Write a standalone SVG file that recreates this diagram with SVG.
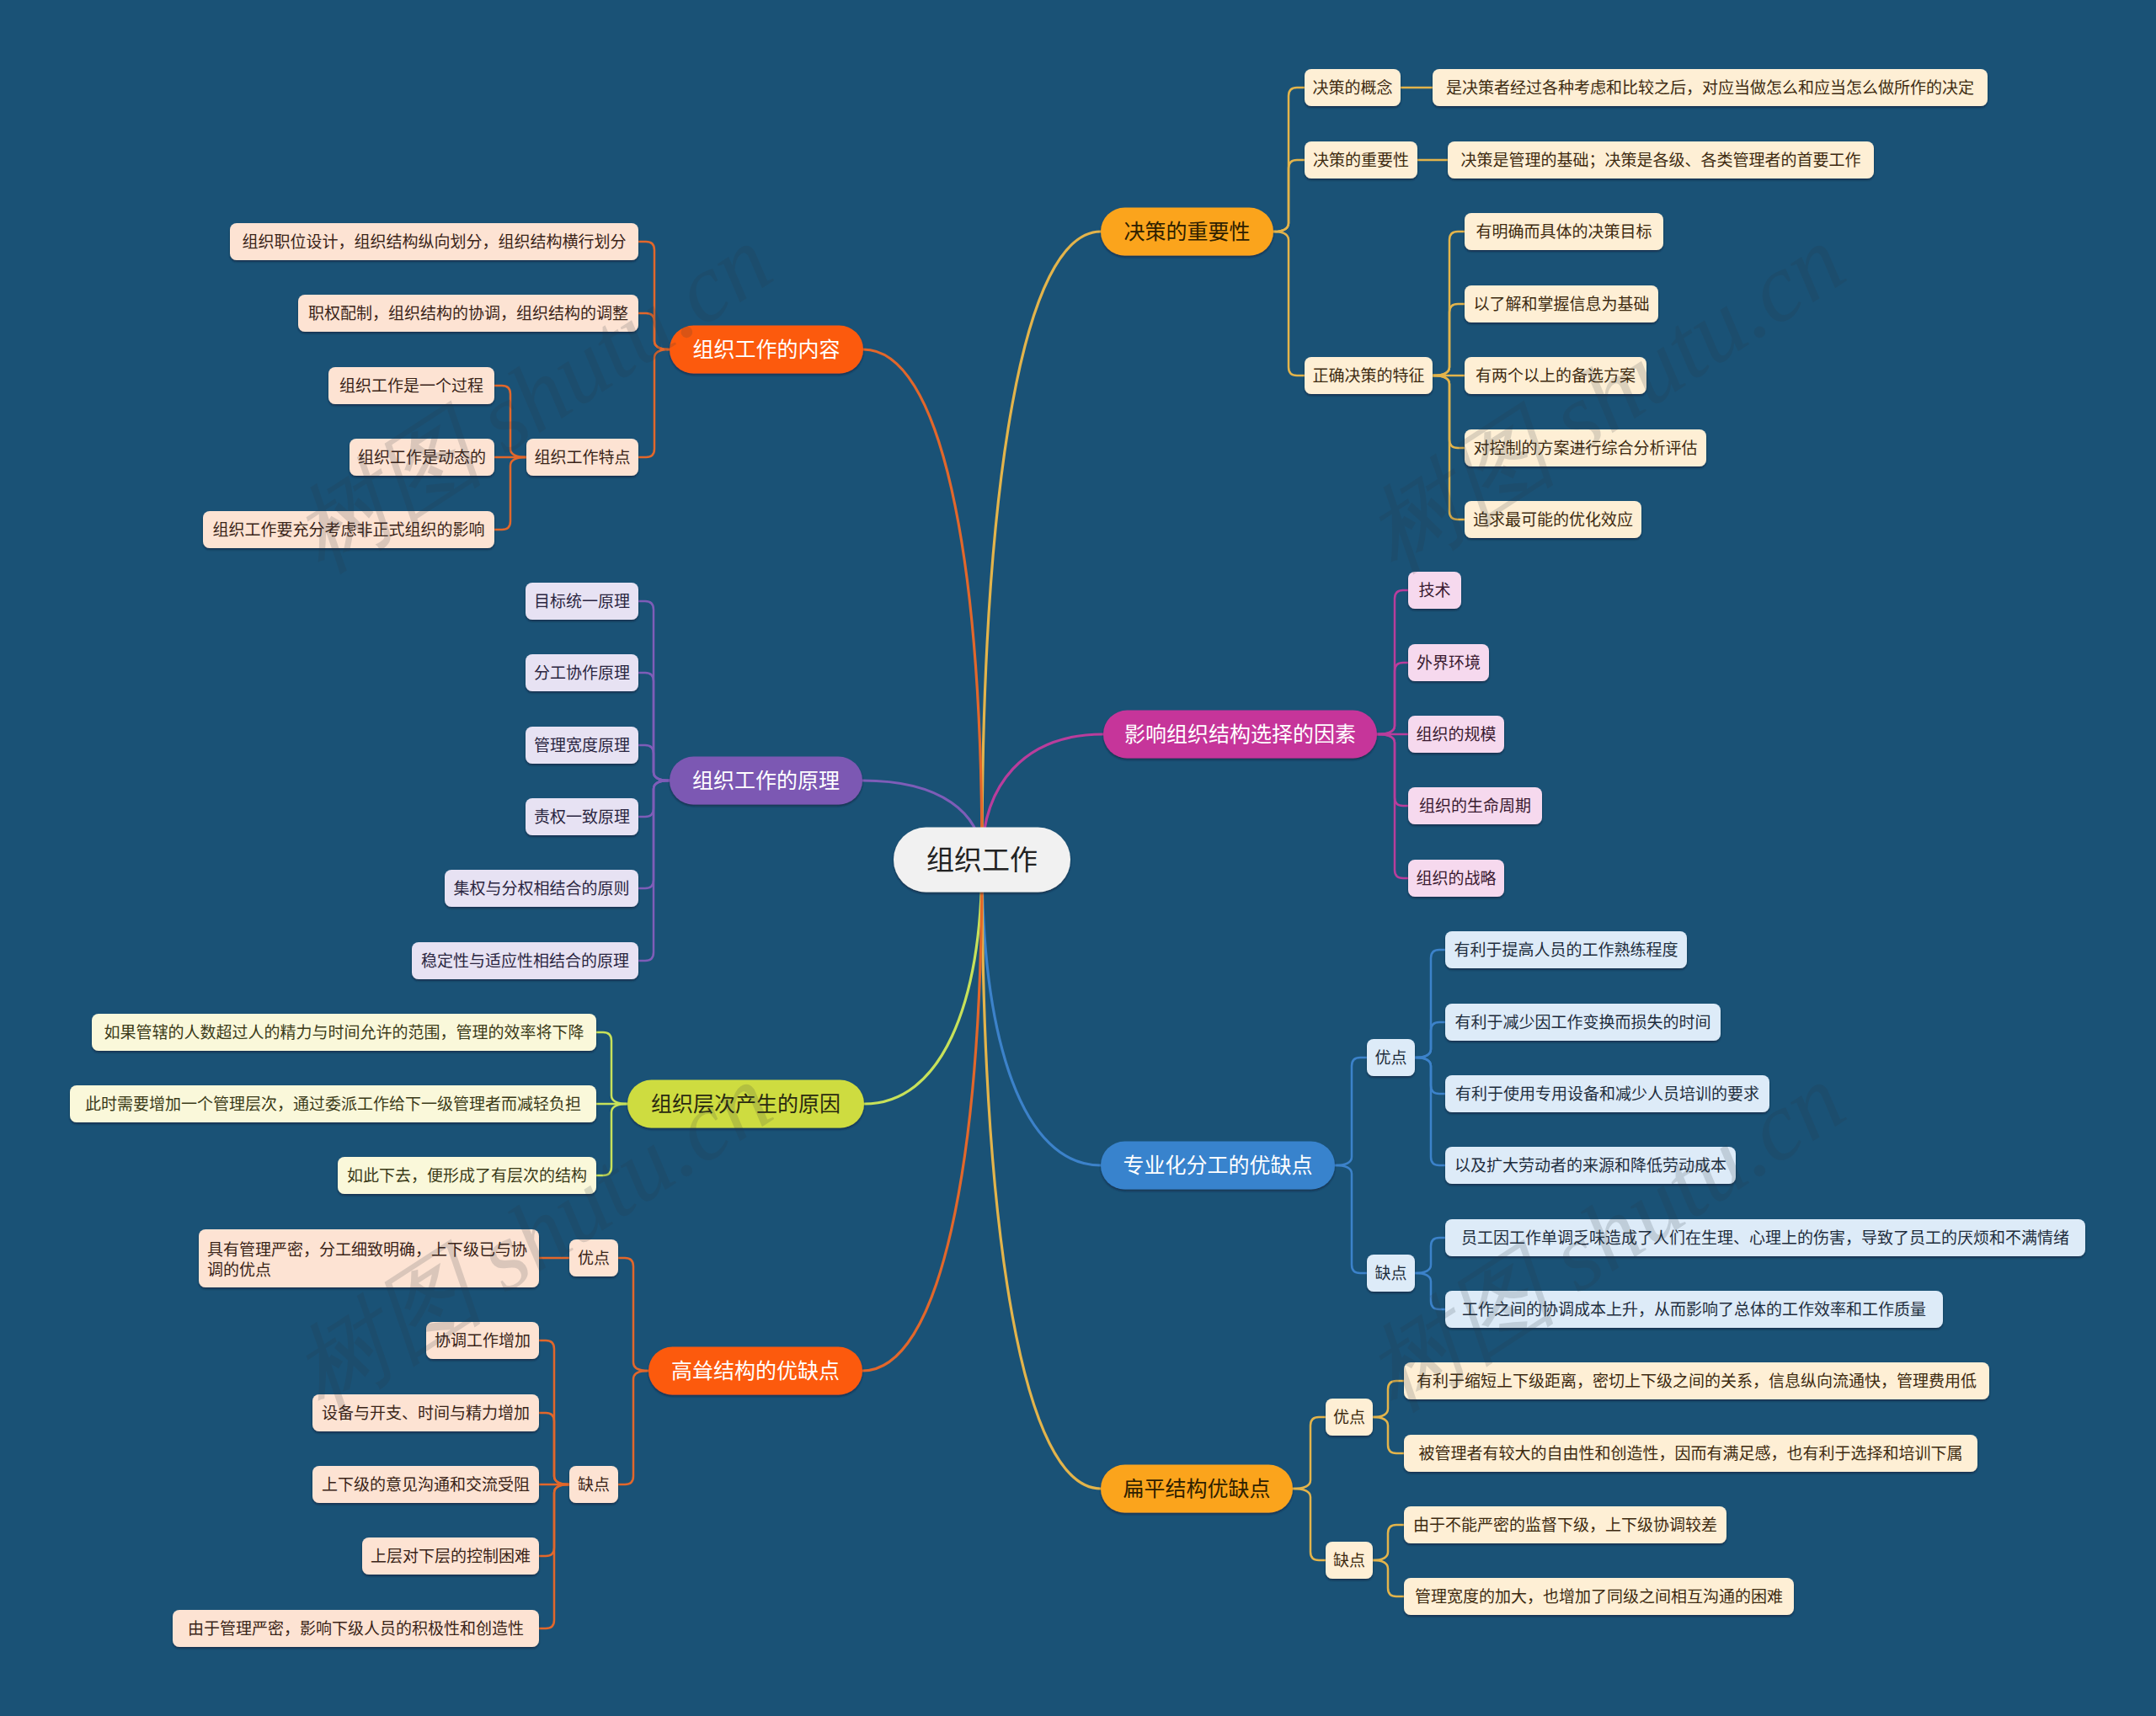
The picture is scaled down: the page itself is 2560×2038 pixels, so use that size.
<svg xmlns="http://www.w3.org/2000/svg" width="2560" height="2038" viewBox="0 0 2560 2038">
<defs>
<filter id="sh" x="-5%" y="-20%" width="110%" height="150%">
<feDropShadow dx="0" dy="2" stdDeviation="1" flood-color="#0a2438" flood-opacity="0.6"/>
</filter>
<style>
text{font-family:"Noto Sans CJK SC","Noto Sans",sans-serif;text-anchor:middle}
.leaf text{font-size:19px}
.main text{font-size:25px}
.conn path{fill:none;stroke-width:2.5;stroke-linecap:round}
.conn .m{stroke-width:3.2}
.gold{stroke:#E3B44B}
.red{stroke:#E2672B}
.pur{stroke:#7E5DB8}
.lime{stroke:#C7E15A}
.mag{stroke:#B93D9C}
.blu{stroke:#3C82CA}
rect{filter:url(#sh)}
.f-or{fill:#FEEFD5}.t-or{fill:#3d2a10}
.f-pe{fill:#FDE3D3}.t-pe{fill:#3a2418}
.f-la{fill:#E7E2F3}.t-la{fill:#2a2540}
.f-ye{fill:#FAF8DA}.t-ye{fill:#3a3a18}
.f-pk{fill:#F6D9EE}.t-pk{fill:#3a1a30}
.f-bl{fill:#DDEBF8}.t-bl{fill:#1e2d3d}
.wm{font-family:"Liberation Serif",serif;font-style:italic;font-size:115px;fill:#2a3640;opacity:0.16}
</style>
</defs>
<rect x="0" y="0" width="2560" height="2038" fill="#1a5276" style="filter:none"/>

<g id="connectors" class="conn">
<path class="m gold" d="M1166 1021 C1166 573 1215 275 1307 275"/>
<path class="m mag" d="M1166 1021 C1166 932 1216 872 1310 872"/>
<path class="m blu" d="M1166 1021 C1166 1239 1215 1384 1307 1384"/>
<path class="m gold" d="M1166 1021 C1166 1469 1215 1768 1307 1768"/>
<path class="m red" d="M1166 1021 C1166 657 1117 415 1025 415"/>
<path class="m pur" d="M1166 1021 C1166 965 1116 927 1024 927"/>
<path class="m lime" d="M1166 1021 C1166 1195 1117 1311 1026 1311"/>
<path class="m red" d="M1166 1021 C1166 1385 1116 1628 1024 1628"/>

<path class="gold" d="M1512 275 Q1530 275 1530 265 V114 Q1530 104 1540 104 H1549"/>
<path class="gold" d="M1512 275 Q1530 275 1530 265 V200 Q1530 190 1540 190 H1549"/>
<path class="gold" d="M1512 275 Q1530 275 1530 285 V436 Q1530 446 1540 446 H1549"/>
<path class="gold" d="M1663 104 H1701"/>
<path class="gold" d="M1683 190 H1719"/>
<path class="gold" d="M1701 446 Q1721 446 1721 436 V285 Q1721 275 1731 275 H1739"/>
<path class="gold" d="M1701 446 Q1721 446 1721 436 V371 Q1721 361 1731 361 H1739"/>
<path class="gold" d="M1701 446 H1739"/>
<path class="gold" d="M1701 446 Q1721 446 1721 456 V522 Q1721 532 1731 532 H1739"/>
<path class="gold" d="M1701 446 Q1721 446 1721 456 V607 Q1721 617 1731 617 H1739"/>

<path class="mag" d="M1635 872 Q1656 872 1656 862 V711 Q1656 701 1666 701 H1672"/>
<path class="mag" d="M1635 872 Q1656 872 1656 862 V797 Q1656 787 1666 787 H1672"/>
<path class="mag" d="M1635 872 H1672"/>
<path class="mag" d="M1635 872 Q1656 872 1656 882 V947 Q1656 957 1666 957 H1672"/>
<path class="mag" d="M1635 872 Q1656 872 1656 882 V1033 Q1656 1043 1666 1043 H1672"/>

<path class="blu" d="M1585 1384 Q1605 1384 1605 1374 V1266 Q1605 1256 1615 1256 H1623"/>
<path class="blu" d="M1585 1384 Q1605 1384 1605 1394 V1502 Q1605 1512 1615 1512 H1623"/>
<path class="blu" d="M1680 1256 Q1699 1256 1699 1246 V1138 Q1699 1128 1709 1128 H1716"/>
<path class="blu" d="M1680 1256 Q1699 1256 1699 1246 V1224 Q1699 1214 1709 1214 H1716"/>
<path class="blu" d="M1680 1256 Q1699 1256 1699 1266 V1289 Q1699 1299 1709 1299 H1716"/>
<path class="blu" d="M1680 1256 Q1699 1256 1699 1266 V1374 Q1699 1384 1709 1384 H1716"/>
<path class="blu" d="M1680 1512 Q1699 1512 1699 1502 V1480 Q1699 1470 1709 1470 H1716"/>
<path class="blu" d="M1680 1512 Q1699 1512 1699 1522 V1545 Q1699 1555 1709 1555 H1716"/>

<path class="gold" d="M1535 1768 Q1556 1768 1556 1758 V1693 Q1556 1683 1566 1683 H1574"/>
<path class="gold" d="M1535 1768 Q1556 1768 1556 1778 V1843 Q1556 1853 1566 1853 H1574"/>
<path class="gold" d="M1630 1683 Q1648 1683 1648 1673 V1650 Q1648 1640 1658 1640 H1667"/>
<path class="gold" d="M1630 1683 Q1648 1683 1648 1693 V1716 Q1648 1726 1658 1726 H1667"/>
<path class="gold" d="M1630 1853 Q1648 1853 1648 1843 V1821 Q1648 1811 1658 1811 H1667"/>
<path class="gold" d="M1630 1853 Q1648 1853 1648 1863 V1886 Q1648 1896 1658 1896 H1667"/>

<path class="red" d="M795 415 Q777 415 777 405 V297 Q777 287 767 287 H758"/>
<path class="red" d="M795 415 Q777 415 777 405 V382 Q777 372 767 372 H758"/>
<path class="red" d="M795 415 Q777 415 777 425 V533 Q777 543 767 543 H758"/>
<path class="red" d="M625 543 Q606 543 606 533 V468 Q606 458 596 458 H587"/>
<path class="red" d="M625 543 H587"/>
<path class="red" d="M625 543 Q606 543 606 553 V619 Q606 629 596 629 H587"/>

<path class="pur" d="M795 927 Q776 927 776 917 V724 Q776 714 766 714 H758"/>
<path class="pur" d="M795 927 Q776 927 776 917 V809 Q776 799 766 799 H758"/>
<path class="pur" d="M795 927 Q776 927 776 917 V895 Q776 885 766 885 H758"/>
<path class="pur" d="M795 927 Q776 927 776 937 V960 Q776 970 766 970 H758"/>
<path class="pur" d="M795 927 Q776 927 776 937 V1045 Q776 1055 766 1055 H758"/>
<path class="pur" d="M795 927 Q776 927 776 937 V1131 Q776 1141 766 1141 H758"/>

<path class="lime" d="M745 1311 Q726 1311 726 1301 V1236 Q726 1226 716 1226 H708"/>
<path class="lime" d="M745 1311 H708"/>
<path class="lime" d="M745 1311 Q726 1311 726 1321 V1386 Q726 1396 716 1396 H708"/>

<path class="red" d="M770 1628 Q752 1628 752 1618 V1504 Q752 1494 742 1494 H734"/>
<path class="red" d="M770 1628 Q752 1628 752 1638 V1753 Q752 1763 742 1763 H734"/>
<path class="red" d="M676 1494 H640"/>
<path class="red" d="M676 1763 Q658 1763 658 1753 V1602 Q658 1592 648 1592 H640"/>
<path class="red" d="M676 1763 Q658 1763 658 1753 V1688 Q658 1678 648 1678 H640"/>
<path class="red" d="M676 1763 H640"/>
<path class="red" d="M676 1763 Q658 1763 658 1773 V1838 Q658 1848 648 1848 H640"/>
<path class="red" d="M676 1763 Q658 1763 658 1773 V1924 Q658 1934 648 1934 H640"/>
</g>

<g id="root"><rect x="1061" y="982.5" width="210" height="77" rx="38.5" fill="#F1F1F1"/><text x="1166" y="1033" font-size="33" fill="#222">组织工作</text></g>

<g id="b-juece" class="main"><rect x="1307" y="246.5" width="205" height="57" rx="28.5" fill="#FBA41E"/><text x="1409.5" y="284" fill="#2e2000">决策的重要性</text></g>
<g id="b-yingxiang" class="main"><rect x="1310" y="843.5" width="325" height="57" rx="28.5" fill="#C6359A"/><text x="1472.5" y="881" fill="#fff">影响组织结构选择的因素</text></g>
<g id="b-zhuanye" class="main"><rect x="1307" y="1355.5" width="278" height="57" rx="28.5" fill="#3883CD"/><text x="1446" y="1393" fill="#fff">专业化分工的优缺点</text></g>
<g id="b-bianping" class="main"><rect x="1307" y="1739.5" width="228" height="57" rx="28.5" fill="#FBA41E"/><text x="1421" y="1777" fill="#2e2000">扁平结构优缺点</text></g>
<g id="b-neirong" class="main"><rect x="795" y="386.5" width="230" height="57" rx="28.5" fill="#FC5A10"/><text x="910" y="424" fill="#fff">组织工作的内容</text></g>
<g id="b-yuanli" class="main"><rect x="795" y="898.5" width="229" height="57" rx="28.5" fill="#7C58B3"/><text x="909.5" y="936" fill="#fff">组织工作的原理</text></g>
<g id="b-cengci" class="main"><rect x="745" y="1282.5" width="281" height="57" rx="28.5" fill="#CEDC40"/><text x="885.5" y="1320" fill="#2a2a10">组织层次产生的原因</text></g>
<g id="b-gaosong" class="main"><rect x="770" y="1599.5" width="254" height="57" rx="28.5" fill="#FC5A10"/><text x="897" y="1637" fill="#fff">高耸结构的优缺点</text></g>

<g class="leaf">
<g id="n1"><rect class="f-or" x="1549" y="82" width="114" height="44" rx="8"/><text class="t-or" x="1606" y="111">决策的概念</text></g>
<g id="n2"><rect class="f-or" x="1701" y="82" width="659" height="44" rx="8"/><text class="t-or" x="2030.5" y="111">是决策者经过各种考虑和比较之后，对应当做怎么和应当怎么做所作的决定</text></g>
<g id="n3"><rect class="f-or" x="1549" y="168" width="134" height="44" rx="8"/><text class="t-or" x="1616" y="197">决策的重要性</text></g>
<g id="n4"><rect class="f-or" x="1719" y="168" width="506" height="44" rx="8"/><text class="t-or" x="1972" y="197">决策是管理的基础；决策是各级、各类管理者的首要工作</text></g>
<g id="n5"><rect class="f-or" x="1549" y="424" width="152" height="44" rx="8"/><text class="t-or" x="1625" y="453">正确决策的特征</text></g>
<g id="n6"><rect class="f-or" x="1739" y="253" width="236" height="44" rx="8"/><text class="t-or" x="1857" y="282">有明确而具体的决策目标</text></g>
<g id="n7"><rect class="f-or" x="1739" y="339" width="230" height="44" rx="8"/><text class="t-or" x="1854" y="368">以了解和掌握信息为基础</text></g>
<g id="n8"><rect class="f-or" x="1739" y="424" width="216" height="44" rx="8"/><text class="t-or" x="1847" y="453">有两个以上的备选方案</text></g>
<g id="n9"><rect class="f-or" x="1739" y="510" width="287" height="44" rx="8"/><text class="t-or" x="1882.5" y="539">对控制的方案进行综合分析评估</text></g>
<g id="n10"><rect class="f-or" x="1739" y="595" width="210" height="44" rx="8"/><text class="t-or" x="1844" y="624">追求最可能的优化效应</text></g>

<g id="n11"><rect class="f-pk" x="1672" y="679" width="63" height="44" rx="8"/><text class="t-pk" x="1703.5" y="708">技术</text></g>
<g id="n12"><rect class="f-pk" x="1672" y="765" width="96" height="44" rx="8"/><text class="t-pk" x="1720" y="794">外界环境</text></g>
<g id="n13"><rect class="f-pk" x="1672" y="850" width="114" height="44" rx="8"/><text class="t-pk" x="1729" y="879">组织的规模</text></g>
<g id="n14"><rect class="f-pk" x="1672" y="935" width="159" height="44" rx="8"/><text class="t-pk" x="1751.5" y="964">组织的生命周期</text></g>
<g id="n15"><rect class="f-pk" x="1672" y="1021" width="114" height="44" rx="8"/><text class="t-pk" x="1729" y="1050">组织的战略</text></g>

<g id="n16"><rect class="f-bl" x="1623" y="1234" width="57" height="44" rx="8"/><text class="t-bl" x="1651.5" y="1263">优点</text></g>
<g id="n17"><rect class="f-bl" x="1623" y="1490" width="57" height="44" rx="8"/><text class="t-bl" x="1651.5" y="1519">缺点</text></g>
<g id="n18"><rect class="f-bl" x="1716" y="1106" width="287" height="44" rx="8"/><text class="t-bl" x="1859.5" y="1135">有利于提高人员的工作熟练程度</text></g>
<g id="n19"><rect class="f-bl" x="1716" y="1192" width="327" height="44" rx="8"/><text class="t-bl" x="1879.5" y="1221">有利于减少因工作变换而损失的时间</text></g>
<g id="n20"><rect class="f-bl" x="1716" y="1277" width="385" height="44" rx="8"/><text class="t-bl" x="1908.5" y="1306">有利于使用专用设备和减少人员培训的要求</text></g>
<g id="n21"><rect class="f-bl" x="1716" y="1362" width="345" height="44" rx="8"/><text class="t-bl" x="1888.5" y="1391">以及扩大劳动者的来源和降低劳动成本</text></g>
<g id="n22"><rect class="f-bl" x="1716" y="1448" width="760" height="44" rx="8"/><text class="t-bl" x="2096" y="1477">员工因工作单调乏味造成了人们在生理、心理上的伤害，导致了员工的厌烦和不满情绪</text></g>
<g id="n23"><rect class="f-bl" x="1716" y="1533" width="591" height="44" rx="8"/><text class="t-bl" x="2011.5" y="1562">工作之间的协调成本上升，从而影响了总体的工作效率和工作质量</text></g>

<g id="n24"><rect class="f-or" x="1574" y="1661" width="56" height="44" rx="8"/><text class="t-or" x="1602" y="1690">优点</text></g>
<g id="n25"><rect class="f-or" x="1574" y="1831" width="56" height="44" rx="8"/><text class="t-or" x="1602" y="1860">缺点</text></g>
<g id="n26"><rect class="f-or" x="1667" y="1618" width="695" height="44" rx="8"/><text class="t-or" x="2014.5" y="1647">有利于缩短上下级距离，密切上下级之间的关系，信息纵向流通快，管理费用低</text></g>
<g id="n27"><rect class="f-or" x="1667" y="1704" width="681" height="44" rx="8"/><text class="t-or" x="2007.5" y="1733">被管理者有较大的自由性和创造性，因而有满足感，也有利于选择和培训下属</text></g>
<g id="n28"><rect class="f-or" x="1667" y="1789" width="383" height="44" rx="8"/><text class="t-or" x="1858.5" y="1818">由于不能严密的监督下级，上下级协调较差</text></g>
<g id="n29"><rect class="f-or" x="1667" y="1874" width="463" height="44" rx="8"/><text class="t-or" x="1898.5" y="1903">管理宽度的加大，也增加了同级之间相互沟通的困难</text></g>

<g id="n30"><rect class="f-pe" x="273" y="265" width="485" height="44" rx="8"/><text class="t-pe" x="515.5" y="294">组织职位设计，组织结构纵向划分，组织结构横行划分</text></g>
<g id="n31"><rect class="f-pe" x="354" y="350" width="404" height="44" rx="8"/><text class="t-pe" x="556" y="379">职权配制，组织结构的协调，组织结构的调整</text></g>
<g id="n32"><rect class="f-pe" x="625" y="521" width="133" height="44" rx="8"/><text class="t-pe" x="691.5" y="550">组织工作特点</text></g>
<g id="n33"><rect class="f-pe" x="390" y="436" width="197" height="44" rx="8"/><text class="t-pe" x="488.5" y="465">组织工作是一个过程</text></g>
<g id="n34"><rect class="f-pe" x="415" y="521" width="172" height="44" rx="8"/><text class="t-pe" x="501" y="550">组织工作是动态的</text></g>
<g id="n35"><rect class="f-pe" x="241" y="607" width="346" height="44" rx="8"/><text class="t-pe" x="414" y="636">组织工作要充分考虑非正式组织的影响</text></g>

<g id="n36"><rect class="f-la" x="624" y="692" width="134" height="44" rx="8"/><text class="t-la" x="691" y="721">目标统一原理</text></g>
<g id="n37"><rect class="f-la" x="624" y="777" width="134" height="44" rx="8"/><text class="t-la" x="691" y="806">分工协作原理</text></g>
<g id="n38"><rect class="f-la" x="624" y="863" width="134" height="44" rx="8"/><text class="t-la" x="691" y="892">管理宽度原理</text></g>
<g id="n39"><rect class="f-la" x="624" y="948" width="134" height="44" rx="8"/><text class="t-la" x="691" y="977">责权一致原理</text></g>
<g id="n40"><rect class="f-la" x="528" y="1033" width="230" height="44" rx="8"/><text class="t-la" x="643" y="1062">集权与分权相结合的原则</text></g>
<g id="n41"><rect class="f-la" x="489" y="1119" width="269" height="44" rx="8"/><text class="t-la" x="623.5" y="1148">稳定性与适应性相结合的原理</text></g>

<g id="n42"><rect class="f-ye" x="109" y="1204" width="599" height="44" rx="8"/><text class="t-ye" x="408.5" y="1233">如果管辖的人数超过人的精力与时间允许的范围，管理的效率将下降</text></g>
<g id="n43"><rect class="f-ye" x="83" y="1289" width="625" height="44" rx="8"/><text class="t-ye" x="395.5" y="1318">此时需要增加一个管理层次，通过委派工作给下一级管理者而减轻负担</text></g>
<g id="n44"><rect class="f-ye" x="401" y="1374" width="307" height="44" rx="8"/><text class="t-ye" x="554.5" y="1403">如此下去，便形成了有层次的结构</text></g>

<g id="n45"><rect class="f-pe" x="676" y="1472" width="58" height="44" rx="8"/><text class="t-pe" x="705" y="1501">优点</text></g>
<g id="n46"><rect class="f-pe" x="676" y="1741" width="58" height="44" rx="8"/><text class="t-pe" x="705" y="1770">缺点</text></g>
<g id="n47"><rect class="f-pe" x="236" y="1460" width="404" height="69" rx="8"/><text class="t-pe" x="246" y="1491" style="text-anchor:start">具有管理严密，分工细致明确，上下级已与协</text><text class="t-pe" x="246" y="1515" style="text-anchor:start">调的优点</text></g>
<g id="n48"><rect class="f-pe" x="506" y="1570" width="134" height="44" rx="8"/><text class="t-pe" x="573" y="1599">协调工作增加</text></g>
<g id="n49"><rect class="f-pe" x="371" y="1656" width="269" height="44" rx="8"/><text class="t-pe" x="505.5" y="1685">设备与开支、时间与精力增加</text></g>
<g id="n50"><rect class="f-pe" x="371" y="1741" width="269" height="44" rx="8"/><text class="t-pe" x="505.5" y="1770">上下级的意见沟通和交流受阻</text></g>
<g id="n51"><rect class="f-pe" x="430" y="1826" width="210" height="44" rx="8"/><text class="t-pe" x="535" y="1855">上层对下层的控制困难</text></g>
<g id="n52"><rect class="f-pe" x="205" y="1912" width="435" height="44" rx="8"/><text class="t-pe" x="422.5" y="1941">由于管理严密，影响下级人员的积极性和创造性</text></g>
</g>

<g id="watermark">
<text class="wm" transform="translate(653,506) rotate(-33)">树图 shutu.cn</text>
<text class="wm" transform="translate(1927,506) rotate(-33)">树图 shutu.cn</text>
<text class="wm" transform="translate(653,1502) rotate(-33)">树图 shutu.cn</text>
<text class="wm" transform="translate(1927,1502) rotate(-33)">树图 shutu.cn</text>
</g>
</svg>
